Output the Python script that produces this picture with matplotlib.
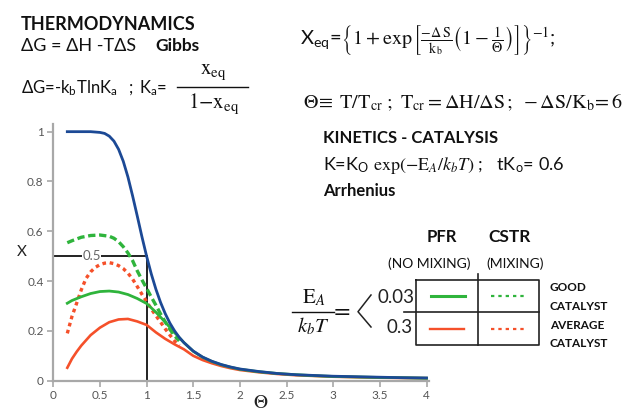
import matplotlib
matplotlib.use("Agg")
import matplotlib.pyplot as plt
from matplotlib.lines import Line2D

plt.rcParams['mathtext.fontset'] = 'stix'
SANS = ['Lato', 'DejaVu Sans']

# ---------------- data ----------------
theta_eq = [0.15, 0.2, 0.3, 0.4, 0.5, 0.55, 0.6, 0.65, 0.7, 0.75, 0.8, 0.85, 0.9, 0.95,
            1.0, 1.05, 1.1, 1.15, 1.2, 1.25, 1.3, 1.35, 1.4, 1.5, 1.6, 1.7, 1.8, 1.9,
            2.0, 2.2, 2.4, 2.6, 2.8, 3.0, 3.25, 3.5, 3.75, 4.0]
x_eq = [1.000, 1.000, 1.000, 1.000, 0.997, 0.993, 0.982, 0.962, 0.929, 0.881, 0.818, 0.742,
        0.661, 0.578, 0.500, 0.429, 0.367, 0.314, 0.269, 0.231, 0.200, 0.174, 0.153, 0.119,
        0.095, 0.078, 0.065, 0.055, 0.047, 0.037, 0.029, 0.024, 0.021, 0.018, 0.016, 0.014,
        0.012, 0.011]

theta_cstr_good = [0.15, 0.2, 0.3, 0.4, 0.5, 0.6, 0.65, 0.7, 0.75, 0.8, 0.85, 0.9, 0.95,
                   1.0, 1.05, 1.1, 1.15, 1.2, 1.25, 1.3, 1.35]
x_cstr_good = [0.554, 0.562, 0.576, 0.583, 0.585, 0.580, 0.572, 0.558, 0.538, 0.513, 0.482,
               0.441, 0.405, 0.371, 0.336, 0.303, 0.268, 0.236, 0.206, 0.180, 0.160]

theta_cstr_avg = [0.15, 0.2, 0.25, 0.3, 0.35, 0.4, 0.45, 0.5, 0.55, 0.6, 0.65, 0.7, 0.75,
                  0.8, 0.85, 0.9, 0.95, 1.0, 1.05, 1.1, 1.15, 1.2, 1.25, 1.3, 1.35]
x_cstr_avg = [0.190, 0.258, 0.311, 0.365, 0.410, 0.437, 0.455, 0.466, 0.472, 0.474, 0.470,
              0.462, 0.450, 0.432, 0.408, 0.378, 0.347, 0.318, 0.288, 0.261, 0.235, 0.208,
              0.183, 0.160, 0.140]

theta_pfr_good = [0.15, 0.2, 0.3, 0.4, 0.5, 0.6, 0.7, 0.8, 0.9, 1.0, 1.1, 1.2, 1.3, 1.4,
                  1.5, 1.6, 1.7, 1.8, 1.9, 2.0, 2.2, 2.4, 2.6, 2.8, 3.0, 3.25, 3.5, 3.75, 4.0]
x_pfr_good = [0.311, 0.322, 0.337, 0.350, 0.358, 0.360, 0.356, 0.346, 0.330, 0.310, 0.275,
              0.235, 0.193, 0.153, 0.118, 0.094, 0.077, 0.064, 0.054, 0.046, 0.036, 0.029,
              0.024, 0.020, 0.017, 0.015, 0.013, 0.012, 0.010]

theta_pfr_avg = [0.15, 0.2, 0.25, 0.3, 0.4, 0.5, 0.6, 0.7, 0.8, 0.9, 1.0, 1.1, 1.2, 1.3,
                 1.4, 1.5, 1.6, 1.7, 1.8, 1.9, 2.0, 2.2, 2.4, 2.6, 2.8, 3.0, 3.25, 3.5, 3.75, 4.0]
x_pfr_avg = [0.052, 0.088, 0.116, 0.141, 0.183, 0.213, 0.235, 0.246, 0.248, 0.238, 0.224,
             0.194, 0.168, 0.146, 0.126, 0.100, 0.083, 0.070, 0.059, 0.050, 0.043, 0.034,
             0.027, 0.022, 0.019, 0.016, 0.014, 0.012, 0.011, 0.010]

x_ticks = [0, 0.5, 1, 1.5, 2, 2.5, 3, 3.5, 4]
x_ticklabels = ['0', '0.5', '1', '1.5', '2', '2.5', '3', '3.5', '4']
y_ticks = [0, 0.2, 0.4, 0.6, 0.8, 1.0]
y_ticklabels = ['0', '0.2', '0.4', '0.6', '0.8', '1']
ref_theta = 1.0
ref_x = 0.5

# ---------------- figure ----------------
W, H = 630, 411
fig = plt.figure(figsize=(W / 100, H / 100), dpi=100)


def P(x, y):
    return (x / W, 1 - y / H)


def fline(xs, ys, **kw):
    fig.add_artist(Line2D([x / W for x in xs], [1 - y / H for y in ys], **kw))


BLUE = '#1c4995'
GREEN = '#2fb43c'
RED = '#f5502a'
GRAY = '#a8a8a8'
INK = '#111111'

ax = fig.add_axes([53.3 / W, 30.3 / H, 376 / W, 256.5 / H])
ax.set_xlim(0, 4.03)
ax.set_ylim(0, 1.03)
for s in ['top', 'right']:
    ax.spines[s].set_visible(False)
for s in ['left', 'bottom']:
    ax.spines[s].set_color(GRAY)
    ax.spines[s].set_linewidth(1.6)
ax.set_xticks(x_ticks)
ax.set_xticklabels(x_ticklabels)
ax.set_yticks(y_ticks)
ax.set_yticklabels(y_ticklabels)
ax.tick_params(colors=GRAY, labelcolor='#555555', labelsize=8.5, length=4, width=1.2,
               pad=3)
for lab in ax.get_xticklabels() + ax.get_yticklabels():
    lab.set_family(SANS)
ax.patch.set_alpha(0)

# reference lines
ax.plot([0, ref_theta], [ref_x, ref_x], color='#222222', lw=1.4, zorder=2)
ax.plot([ref_theta, ref_theta], [0, ref_x], color='#222222', lw=1.4, zorder=2)
ax.text(0.41, ref_x, '0.5', ha='center', va='center', fontsize=9.5, color='#666666',
        family=SANS, bbox=dict(facecolor='white', edgecolor='none', pad=0.5), zorder=3)

ax.plot(theta_pfr_avg, x_pfr_avg, color=RED, lw=1.9, zorder=4)
ax.plot(theta_cstr_avg, x_cstr_avg, color=RED, lw=2.4, ls=(0, (1.1, 1.1)), zorder=4)
ax.plot(theta_pfr_good, x_pfr_good, color=GREEN, lw=2.0, zorder=5)
ax.plot(theta_cstr_good, x_cstr_good, color=GREEN, lw=2.4, ls=(0, (2.2, 1.1)), zorder=5)
ax.plot(theta_eq, x_eq, color=BLUE, lw=2.0, zorder=6)

fig.text(*P(22, 252), 'X', fontsize=11, ha='center', va='center', family=SANS, color='#222')
fig.text(*P(261, 402), r'$\Theta$', fontsize=14, ha='center', va='center', color='#222')

# ---------------- thermodynamics text ----------------
fig.text(*P(21, 24), 'THERMODYNAMICS', fontsize=13, fontweight='bold', family=SANS,
         ha='left', va='center', color=INK)
fig.text(*P(21, 46), 'ΔG = ΔH -TΔS', fontsize=13, family=SANS, ha='left', va='center',
         color=INK)
fig.text(*P(155, 46), 'Gibbs', fontsize=12.5, fontweight='bold', family=SANS, ha='left',
         va='center', color=INK)
fig.text(*P(21, 88), r'ΔG=-k$_{\mathregular{b}}$TlnK$_{\mathregular{a}}$', fontsize=12,
         family=SANS, ha='left', va='center', color=INK)
fig.text(*P(131, 88), ';', fontsize=12, family=SANS, ha='center', va='center', color=INK)
fig.text(*P(139, 88), r'K$_{\mathregular{a}}$=', fontsize=12, family=SANS, ha='left',
         va='center', color=INK)
fig.text(*P(213, 72), r'$\mathrm{x_{eq}}$', fontsize=15, ha='center', va='center', color=INK)
fig.text(*P(214, 104), r'$\mathrm{1{-}x_{eq}}$', fontsize=15, ha='center', va='center',
         color=INK)
fline([177, 248], [87, 87], color=INK, lw=1.0)

# ---------------- equilibrium formula ----------------
fig.text(*P(300, 40),
         r'X$_{\mathregular{eq}}$=$\left\{1+\exp\left[\frac{-\Delta\,\mathrm{S}}{\mathrm{k_b}}'
         r'\left(1-\frac{1}{\Theta}\right)\right]\right\}^{-1}$;',
         fontsize=14.5, family=SANS, ha='left', va='center', color=INK)
fig.text(*P(303, 103),
         r'$\Theta\!\equiv\ \mathrm{T/T_{cr}}\ ;\ \mathrm{T_{cr}}=\Delta\mathrm{H}/\Delta\mathrm{S}\,;'
         r'\ -\Delta\mathrm{S}/\mathrm{K_b}\!=6$',
         fontsize=14.5, ha='left', va='center', color=INK)

# ---------------- kinetics text ----------------
fig.text(*P(323, 138), 'KINETICS - CATALYSIS', fontsize=12, fontweight='bold', family=SANS,
         ha='left', va='center', color=INK)
fig.text(*P(323, 165),
         r'K=K$_{\mathregular{O}}$ $\mathrm{exp}(-\mathrm{E}_A/k_bT)$ ;   '
         r'tK$_{\mathregular{o}}$= 0.6',
         fontsize=13, family=SANS, ha='left', va='center', color=INK)
fig.text(*P(323, 191), 'Arrhenius', fontsize=12, fontweight='bold', family=SANS,
         ha='left', va='center', color=INK)

# ---------------- legend table ----------------
fig.text(*P(442, 237), 'PFR', fontsize=12, fontweight='bold', family=SANS, ha='center',
         va='center', color=INK)
fig.text(*P(510, 237), 'CSTR', fontsize=12.5, fontweight='bold', family=SANS, ha='center',
         va='center', color=INK)
fig.text(*P(429, 264), '(NO MIXING)', fontsize=10, family=SANS, ha='center', va='center',
         color=INK)
fig.text(*P(515, 264), '(MIXING)', fontsize=10, family=SANS, ha='center', va='center',
         color=INK)

box_l, box_r, box_t, box_b, box_m, box_h = 416, 539, 279.5, 345, 478.3, 311.7
fline([box_l, box_r, box_r, box_l, box_l], [box_t, box_t, box_b, box_b, box_t], color='#222',
      lw=1.2)
fline([box_m, box_m], [274, box_b], color='#222', lw=1.2)
fline([404, box_r], [box_h, box_h], color='#222', lw=1.2)
fline([431, 465], [296, 296], color=GREEN, lw=2.2)
fline([491, 525], [296, 296], color=GREEN, lw=1.6, ls=(0, (1.5, 1.8)))
fline([430, 464], [328.5, 328.5], color=RED, lw=1.7)
fline([491, 526], [328.5, 328.5], color=RED, lw=1.6, ls=(0, (1.5, 1.8)))

fig.text(*P(414, 297), '0.03', fontsize=13.5, family=SANS, ha='right', va='center',
         color='#222')
fig.text(*P(413, 327), '0.3', fontsize=13.5, family=SANS, ha='right', va='center',
         color='#222')
fline([371, 358, 371], [295, 311.7, 327], color='#222', lw=1.1)

fig.text(*P(314, 298), r'$\mathrm{E}_A$', fontsize=15, ha='center', va='center', color=INK)
fig.text(*P(313, 326), r'$k_bT$', fontsize=15, ha='center', va='center', color=INK)
fline([292, 334], [311.5, 311.5], color=INK, lw=1.0)
fig.text(*P(342, 313), '=', fontsize=16, ha='center', va='center', color=INK)

for yy, t in [(287, 'GOOD'), (306.5, 'CATALYST'), (325, 'AVERAGE'), (343.5, 'CATALYST')]:
    fig.text(*P(550, yy), t, fontsize=8.5, fontweight='bold', family=SANS, ha='left',
             va='center', color=INK)

fig.savefig('out.png', dpi=100)
